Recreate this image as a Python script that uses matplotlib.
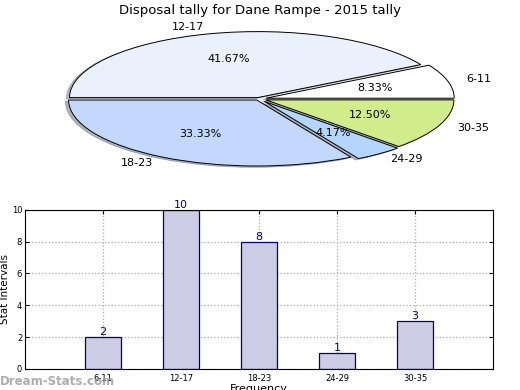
import matplotlib
matplotlib.use("Agg")
import matplotlib.pyplot as plt

categories = ['6-11', '12-17', '18-23', '24-29', '30-35']
counts = [2, 10, 8, 1, 3]
pie_colors = ['#ffffff', '#eaf1fd', '#c4d8fd', '#b4d5fd', '#d1ec8a']
explode = [0.04, 0.02, 0.02, 0.05, 0.04]

fig = plt.figure(figsize=(5.2, 3.9), dpi=100)

# pie, squashed (no equal aspect)
axp = fig.add_axes([0.045, 0.535, 0.905, 0.423])
wedges, texts, autotexts = axp.pie(counts, labels=categories, colors=pie_colors,
                                   explode=explode, autopct='%1.2f%%',
                                   shadow={'ox': -0.012, 'oy': -0.014, 'shade': 0.5},
                                   startangle=0, counterclock=True,
                                   wedgeprops={'edgecolor': 'black', 'linewidth': 0.7},
                                   textprops={'fontsize': 8})
axp.set_aspect('auto')
axp.set_xlim(-1.25, 1.25)
axp.set_ylim(-1.25, 1.25)
fig.text(0.5, 0.972, 'Disposal tally for Dane Rampe - 2015 tally',
         ha='center', va='center', fontsize=9.5)

# bar chart
axb = fig.add_axes([0.048, 0.054, 0.9, 0.408])
xs = list(range(1, len(categories) + 1))
bars = axb.bar(xs, counts, width=0.46, color='#ccccE5', edgecolor='#000080',
               linewidth=0.9, zorder=2)
for x, c in zip(xs, counts):
    axb.text(x, c, str(c), ha='center', va='bottom', color='#000080', fontsize=8)
axb.set_xlim(0, 6)
axb.set_ylim(0, 10)
axb.set_xticks(xs)
axb.set_xticklabels(categories)
axb.set_yticks([0, 2, 4, 6, 8, 10])
axb.tick_params(labelsize=6, direction='in', top=True, right=True, length=3)
axb.tick_params(axis='y', pad=2)
axb.grid(True, linestyle=':', color='#aaaaaa', linewidth=0.9, zorder=0)
axb.set_axisbelow(True)
axb.set_xlabel('Frequency', fontsize=8, labelpad=1)
axb.set_ylabel('Stat Intervals', fontsize=7.5, labelpad=1)

fig.text(0.0, 0.022, 'Dream-Stats.com', color='#999999', fontsize=8.5,
         fontweight='bold', ha='left', va='center', alpha=0.8)

fig.savefig('out.png', dpi=100)
